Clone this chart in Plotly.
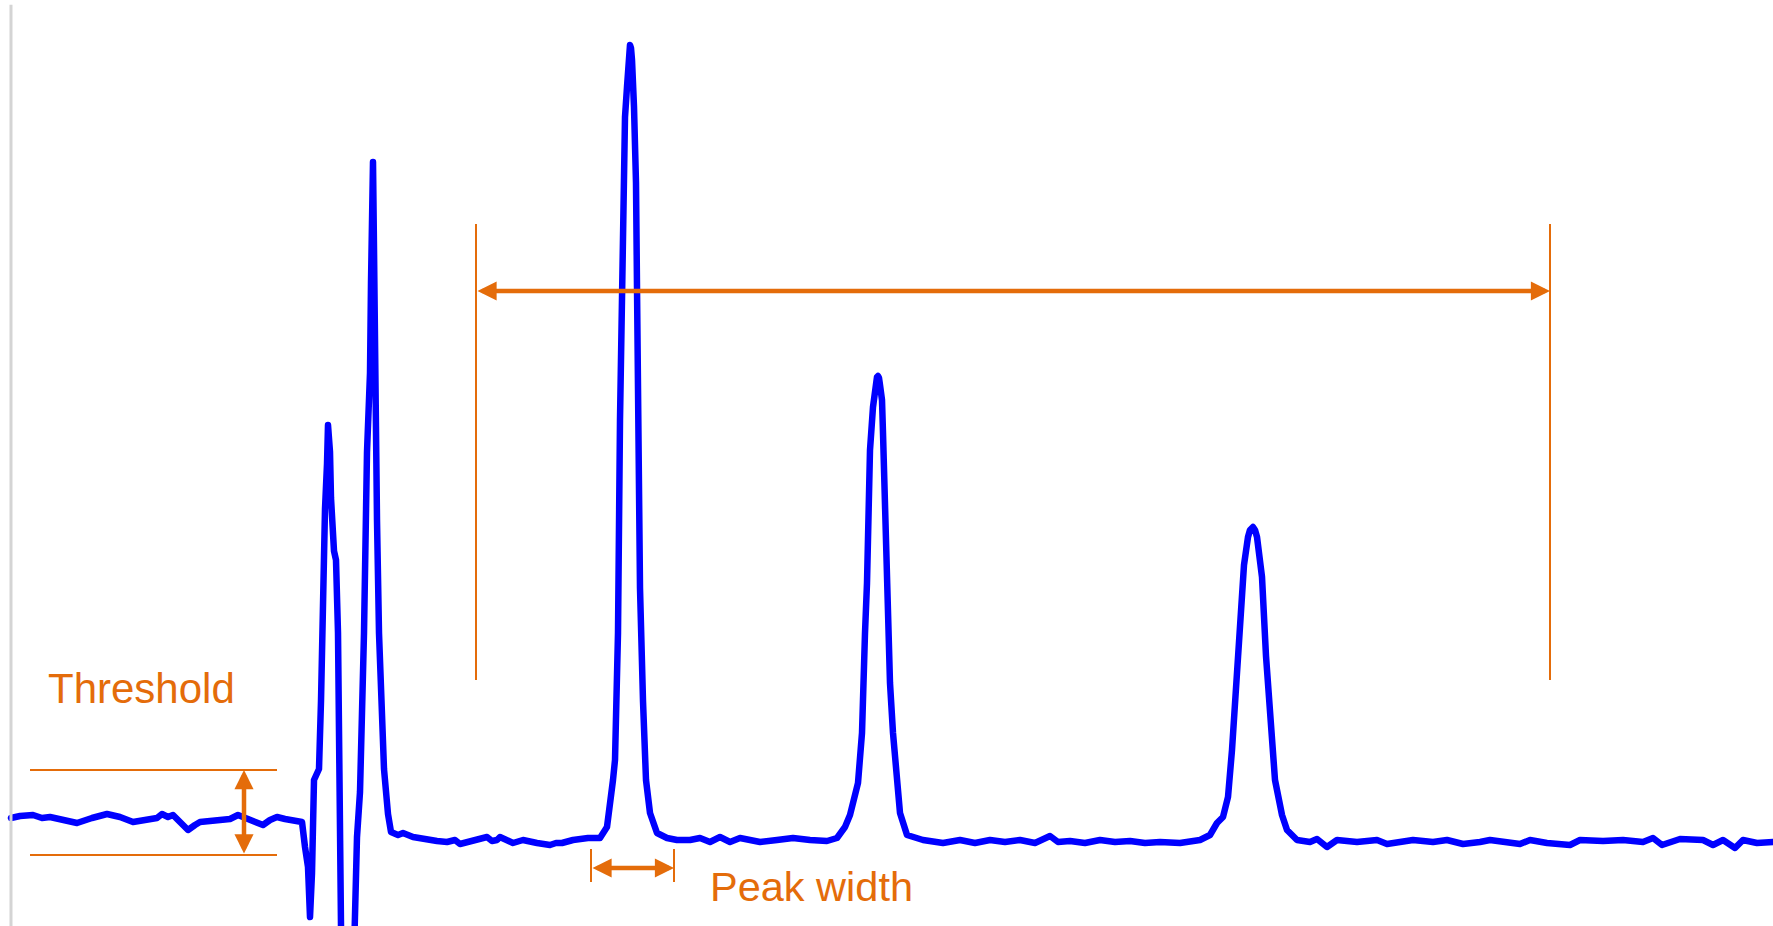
import plotly.graph_objects as go

# ---- chromatogram trace (time in min, signal in mAU) ----
time = [
    0.11, 0.20, 0.33, 0.42, 0.50, 0.62, 0.77, 0.92, 1.07, 1.20, 1.33, 1.45, 1.57, 1.62, 1.68, 1.73,
    1.80, 1.88, 1.95, 2.00, 2.10, 2.17, 2.30, 2.38, 2.45, 2.53, 2.63, 2.70, 2.77, 2.85, 2.93, 3.02,
    3.05, 3.08, 3.10, 3.12, 3.14, 3.19, 3.21, 3.23, 3.25, 3.27, 3.28, 3.30, 3.31, 3.34, 3.36, 3.38,
    3.39, 3.41, 3.49, 3.55, 3.57, 3.60, 3.62, 3.64, 3.67, 3.70, 3.71, 3.72, 3.73, 3.74, 3.75, 3.77,
    3.79, 3.81, 3.84, 3.88, 3.91, 3.98,
    4.03, 4.13, 4.27, 4.37, 4.47, 4.55, 4.60, 4.73, 4.87, 4.92, 4.97, 5.00, 5.07, 5.13, 5.23, 5.30,
    5.37, 5.50, 5.56, 5.62, 5.73, 5.88, 6.00, 6.07, 6.10, 6.13, 6.15, 6.18, 6.20, 6.22, 6.23, 6.25,
    6.27, 6.28, 6.29, 6.30, 6.31, 6.32, 6.34, 6.36, 6.37, 6.38, 6.40, 6.43, 6.46, 6.50, 6.57, 6.67,
    6.77, 6.90,
    7.00, 7.10, 7.20, 7.30, 7.40, 7.50, 7.60, 7.77, 7.93, 8.10, 8.27, 8.37, 8.45, 8.50, 8.55, 8.58,
    8.62, 8.63, 8.65, 8.67, 8.68, 8.70, 8.73, 8.75, 8.77, 8.78, 8.79, 8.80, 8.82, 8.83, 8.85, 8.87,
    8.88, 8.90, 8.93, 8.96, 9.00, 9.07, 9.23, 9.43, 9.60, 9.75, 9.90, 10.05, 10.20, 10.35, 10.50,
    10.58, 10.70, 10.85, 11.00, 11.15, 11.30, 11.45, 11.60, 11.80, 12.00, 12.10, 12.17, 12.23, 12.28,
    12.32, 12.36, 12.40, 12.44, 12.48, 12.50, 12.53, 12.55, 12.57, 12.60, 12.62, 12.66, 12.71, 12.75,
    12.82, 12.87, 12.97, 13.10, 13.17,
    13.27, 13.37, 13.57, 13.77, 13.87, 14.13, 14.33, 14.47, 14.63, 14.80, 14.90, 15.20, 15.30, 15.47,
    15.70, 15.80, 16.03, 16.23, 16.43, 16.53, 16.62, 16.80, 17.03, 17.13, 17.23, 17.35, 17.43, 17.57,
    17.73,
]
signal = [
    2.2, 2.4, 2.5, 2.2, 2.3, 2.0, 1.7, 2.2, 2.6, 2.3, 1.8, 2.0, 2.2, 2.6, 2.3, 2.5,
    1.8, 1.0, 1.5, 1.8, 1.9, 2.0, 2.1, 2.5, 2.2, 2.0, 1.5, 2.0, 2.3, 2.1, 2.0, 1.8,
    -0.7, -2.7, -7.7, -3.3, 6.0, 7.1, 13.9, 25.2, 33.1, 37.6, 41.5, 38.8, 34.2, 28.9, 28.0, 20.7,
    4.8, -8.6, -31.0, -8.6, 0.3, 4.8, 11.6, 20.7, 38.8, 46.7, 55.7, 67.6, 67.8, 59.1, 45.6, 32.0,
    20.7, 12.8, 7.1, 2.6, 0.8, 0.5,
    0.7, 0.3, 0.0, -0.1, -0.2, 0.0, -0.4, 0.0, 0.3, -0.1, 0.0, 0.3, -0.1, -0.3, 0.0, -0.2,
    -0.3, -0.5, -0.3, -0.3, 0.0, 0.2, 0.2, 1.3, 3.3, 6.0, 8.0, 20.7, 42.0, 53.0, 63.7, 72.3,
    75.3, 78.0, 79.2, 79.5, 79.2, 78.0, 73.3, 65.7, 55.3, 40.3, 25.2, 13.9, 6.0, 2.7, 0.7, 0.2,
    0.0, 0.0,
    0.2, -0.2, 0.3, -0.2, 0.2, 0.0, -0.2, 0.0, 0.2, 0.0, -0.1, 0.2, 1.3, 2.5, 5.0, 5.7,
    10.7, 15.7, 20.7, 25.7, 31.3, 39.0, 43.3, 45.6, 46.3, 46.4, 46.2, 45.5, 44.0, 40.7, 33.0, 27.3,
    20.7, 15.7, 10.7, 7.0, 2.7, 0.5, 0.0, -0.3, 0.0, -0.3, 0.0, -0.2, 0.0, -0.3, 0.4,
    -0.2, -0.1, -0.3, 0.0, -0.2, -0.1, -0.3, -0.2, -0.3, 0.0, 0.5, 1.7, 2.3, 4.3,
    9.0, 16.0, 23.0, 27.5, 30.3, 31.0, 31.3, 31.0, 30.3, 28.3, 26.3, 18.4, 11.6, 6.0,
    2.5, 1.0, 0.0, -0.2, 0.1,
    -0.7, 0.0, -0.2, 0.0, -0.4, 0.0, -0.2, 0.0, -0.4, -0.2, 0.0, -0.4, 0.0, -0.3,
    -0.5, 0.0, -0.1, 0.0, -0.2, 0.2, -0.5, 0.1, 0.0, -0.5, 0.0, -0.8, 0.0, -0.3,
    -0.2,
]

# ---- annotation values ----
threshold_upper = 7.0
threshold_lower = -1.5
threshold_x = [0.30, 2.77]
threshold_arrow_x = 2.44
window_start = 4.76
window_end = 15.50
window_top = 61.6
window_bottom = 16.0
window_arrow_y = 54.9
peak_width_start = 5.91
peak_width_end = 6.74
peak_width_top = -0.9
peak_width_bottom = -4.2
peak_width_arrow_y = -2.8
labels = ["Threshold", "Peak width"]

ORANGE = "#E46C0A"
BLUE = "#0000FF"
FONT = "Arial, Liberation Sans, sans-serif"

fig = go.Figure()
fig.add_trace(go.Scatter(x=time, y=signal, mode="lines",
                         line=dict(color=BLUE, width=6.5), hoverinfo="skip",
                         showlegend=False))

shapes = []
for yv in (threshold_upper, threshold_lower):
    shapes.append(dict(type="line", xref="x", yref="y", x0=threshold_x[0], x1=threshold_x[1],
                       y0=yv, y1=yv, line=dict(color=ORANGE, width=2)))
for xv in (window_start, window_end):
    shapes.append(dict(type="line", xref="x", yref="y", x0=xv, x1=xv,
                       y0=window_bottom, y1=window_top, line=dict(color=ORANGE, width=2)))
for xv in (peak_width_start, peak_width_end):
    shapes.append(dict(type="line", xref="x", yref="y", x0=xv, x1=xv,
                       y0=peak_width_bottom, y1=peak_width_top, line=dict(color=ORANGE, width=2)))
shapes.append(dict(type="line", xref="paper", yref="paper", x0=0.0062, x1=0.0062, y0=0, y1=0.995,
                   line=dict(color="#D4D4D4", width=3)))


def double_arrow(x0, y0, x1, y1):
    return dict(x=x1, y=y1, ax=x0, ay=y0, xref="x", yref="y", axref="x", ayref="y",
                text="", showarrow=True, arrowside="end+start",
                arrowhead=2, startarrowhead=2, arrowsize=0.85, startarrowsize=0.85,
                arrowwidth=4.5, arrowcolor=ORANGE, standoff=0, startstandoff=0)


annotations = [
    double_arrow(window_start, window_arrow_y, window_end, window_arrow_y),
    double_arrow(threshold_arrow_x, threshold_lower, threshold_arrow_x, threshold_upper),
    double_arrow(peak_width_start, peak_width_arrow_y, peak_width_end, peak_width_arrow_y),
    dict(x=0.46, y=15.2, xref="x", yref="y", text=labels[0], showarrow=False,
         xanchor="left", yanchor="middle", font=dict(family=FONT, size=42, color=ORANGE)),
    dict(x=7.08, y=-4.6, xref="x", yref="y", text=labels[1], showarrow=False,
         xanchor="left", yanchor="middle", font=dict(family=FONT, size=41.5, color=ORANGE)),
]

fig.update_layout(
    width=1773, height=926,
    margin=dict(l=0, r=0, t=0, b=0),
    paper_bgcolor="white", plot_bgcolor="white",
    xaxis=dict(range=[0, 17.73], visible=False, showgrid=False, zeroline=False),
    yaxis=dict(range=[-8.6, 84.0], visible=False, showgrid=False, zeroline=False),
    shapes=shapes, annotations=annotations,
)

post = ("document.body.style.margin='0px';document.body.style.overflow='hidden';"
        "document.querySelectorAll('.js-line').forEach(function(e){"
        "e.style.strokeLinejoin='round';e.style.strokeLinecap='round';});")
fig.write_html("out.html", config={"displayModeBar": False}, post_script=post)
